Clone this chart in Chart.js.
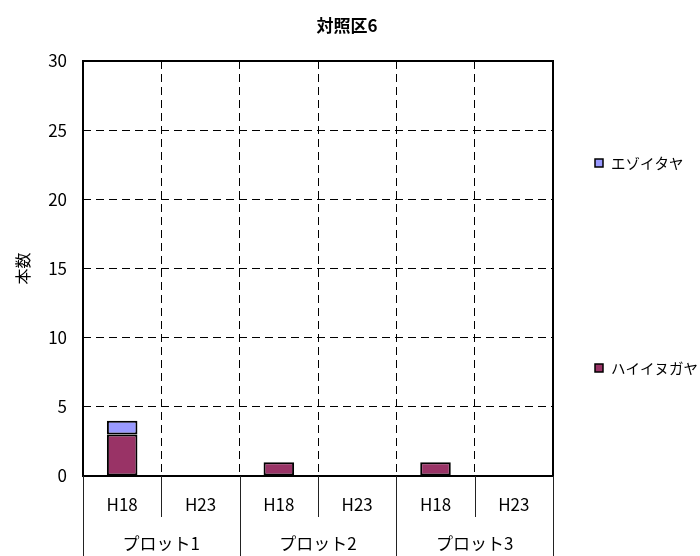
<!DOCTYPE html>
<html lang="ja">
<head>
    <meta charset="UTF-8">
    <title>対照区6</title>
    <script src="https://cdn.jsdelivr.net/npm/chart.js"></script>
    <style>
        html, body {
            margin: 0;
            padding: 0;
            background: #fff;
        }
        #wrap {
            position: relative;
            width: 700px;
            height: 556px;
        }
    </style>
</head>
<body>
    <div id="wrap">
        <canvas id="chart" width="700" height="556"></canvas>
    </div>

    <script>
        const chartTitle = '対照区6';
        const yTitle = '本数';
        const years = ['H18', 'H23', 'H18', 'H23', 'H18', 'H23'];
        const plots = ['プロット1', 'プロット2', 'プロット3'];
        const haiinugaya = [3, 0, 1, 0, 1, 0];
        const ezoitaya = [1, 0, 0, 0, 0, 0];
        const yTicks = [0, 5, 10, 15, 20, 25, 30];

        const FONT = '"Noto Sans CJK JP", "Noto Sans", sans-serif';

        // frame, title, two-level category axis and right-hand legend
        const extras = {
            id: 'extras',
            afterDraw(chart) {
                const ctx = chart.ctx;
                const area = chart.chartArea;
                const x = chart.scales.x;
                ctx.save();

                // outer frame of the plot area
                ctx.strokeStyle = '#000';
                ctx.lineWidth = 2;
                ctx.strokeRect(area.left, area.top, area.right - area.left, area.bottom - area.top);

                // title
                ctx.fillStyle = '#000';
                ctx.font = 'bold 17px ' + FONT;
                ctx.textAlign = 'center';
                ctx.textBaseline = 'middle';
                ctx.fillText(chartTitle, 347, 26);

                // category labels and separators under the axis
                const step = (area.right - area.left) / years.length;
                ctx.font = '17px ' + FONT;
                ctx.lineWidth = 1;
                ctx.strokeStyle = '#222';
                years.forEach((lab, i) => {
                    ctx.fillText(lab, x.getPixelForValue(i), 505);
                });
                for (let i = 0; i <= years.length; i++) {
                    const px = Math.round(area.left + i * step) + 0.5;
                    const groupEdge = i % 2 === 0;
                    ctx.beginPath();
                    ctx.moveTo(px, area.bottom);
                    ctx.lineTo(px, groupEdge ? 556 : 517);
                    ctx.stroke();
                }
                plots.forEach((lab, g) => {
                    const cx = (x.getPixelForValue(g * 2) + x.getPixelForValue(g * 2 + 1)) / 2;
                    ctx.fillText(lab, cx, 544);
                });

                // legend (upper series first)
                const items = [
                    { ds: chart.data.datasets[1], y: 163 },
                    { ds: chart.data.datasets[0], y: 368 }
                ];
                ctx.textAlign = 'left';
                ctx.font = '14.5px ' + FONT;
                items.forEach(it => {
                    ctx.fillStyle = it.ds.backgroundColor;
                    ctx.fillRect(595, it.y - 4, 8, 8);
                    ctx.strokeStyle = '#000';
                    ctx.lineWidth = 1.5;
                    ctx.strokeRect(595, it.y - 4, 8, 8);
                    ctx.fillStyle = '#000';
                    ctx.fillText(it.ds.label, 611, it.y);
                });

                ctx.restore();
            }
        };

        new Chart(document.getElementById('chart'), {
            type: 'bar',
            data: {
                labels: years,
                datasets: [
                    {
                        label: 'ハイイヌガヤ',
                        data: haiinugaya,
                        backgroundColor: '#993366',
                        borderColor: '#000',
                        borderWidth: 2,
                        borderSkipped: false,
                        barPercentage: 0.39,
                        categoryPercentage: 1
                    },
                    {
                        label: 'エゾイタヤ',
                        data: ezoitaya,
                        backgroundColor: '#9999FF',
                        borderColor: '#000',
                        borderWidth: 2,
                        borderSkipped: false,
                        barPercentage: 0.39,
                        categoryPercentage: 1
                    }
                ]
            },
            options: {
                responsive: false,
                animation: false,
                layout: {
                    padding: { left: 0, right: 147, top: 61, bottom: 80 }
                },
                plugins: {
                    legend: { display: false },
                    title: { display: false },
                    tooltip: { enabled: false }
                },
                scales: {
                    x: {
                        stacked: true,
                        ticks: { display: false },
                        grid: {
                            offset: true,
                            color: '#000',
                            lineWidth: 1,
                            drawTicks: false
                        },
                        border: { display: false, dash: [8, 5] }
                    },
                    y: {
                        stacked: true,
                        min: 0,
                        max: 30,
                        afterFit(scale) { scale.width = 83; },
                        afterBuildTicks(scale) {
                            scale.ticks = yTicks.map(v => ({ value: v }));
                        },
                        ticks: {
                            color: '#000',
                            padding: 16,
                            font: { family: FONT, size: 17 }
                        },
                        grid: {
                            color: '#000',
                            lineWidth: 1,
                            drawTicks: false
                        },
                        border: { display: false, dash: [8, 5] },
                        title: {
                            display: true,
                            text: yTitle,
                            color: '#000',
                            font: { family: FONT, size: 16 },
                            padding: { top: 13, bottom: 0 }
                        }
                    }
                }
            },
            plugins: [extras]
        });
    </script>
</body>
</html>
